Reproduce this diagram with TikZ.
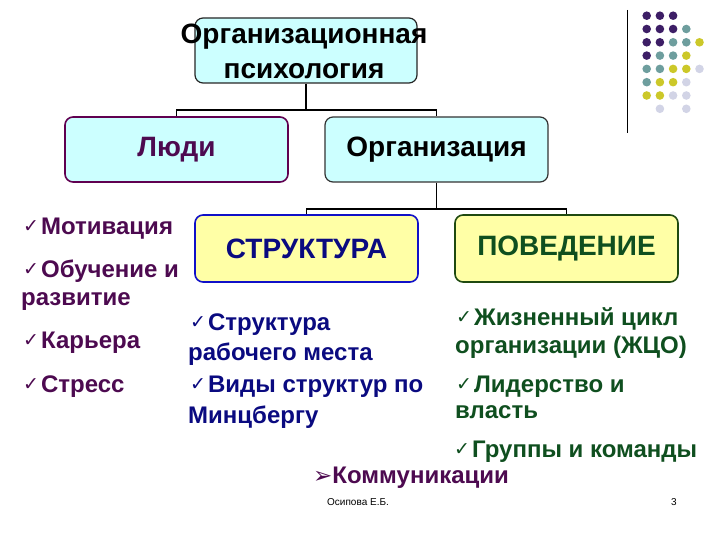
\documentclass[tikz,border=0pt]{standalone}
\usepackage{fontspec}
\setmainfont{Liberation Sans}
\newfontfamily\djv{DejaVu Sans}
\definecolor{cyanfill}{HTML}{CCFFFF}
\definecolor{yelfill}{HTML}{FFFFA6}
\definecolor{purptext}{HTML}{4D0A50}
\definecolor{purpline}{HTML}{600050}
\definecolor{bluetext}{HTML}{0A0A80}
\definecolor{blueline}{HTML}{1010C8}
\definecolor{greentext}{HTML}{0F4F1F}
\definecolor{greenline}{HTML}{1F4A10}
\definecolor{dotA}{HTML}{3D1E66}
\definecolor{dotB}{HTML}{6E9E9E}
\definecolor{dotC}{HTML}{CCC829}
\definecolor{dotD}{HTML}{D2D4E6}
\newcommand{\ck}{\raisebox{2pt}{\djv\fontsize{19}{19}\selectfont ✓}\hspace{2pt}}
\begin{document}
\begin{tikzpicture}[x=1pt,y=-1pt,
  box/.style={draw, rounded corners=8pt, line width=1.6pt, minimum width=223pt, minimum height=65pt, inner sep=0pt},
  lbl/.style={font=\bfseries\fontsize{28}{35}\selectfont, align=center, inner sep=0pt},
  item/.style={anchor=base west, inner sep=0pt, font=\bfseries\fontsize{24}{28}\selectfont},
  conn/.style={draw=black, line width=1.3pt},
  dot/.style={circle, fill=#1, minimum size=8.6pt, inner sep=0pt}]
\useasboundingbox (0,0) rectangle (720,540);
% decoration
\draw[line width=1pt] (627,10) -- (627,133);
\foreach \r/\row in {0/{A,A,A,0,0},1/{A,A,A,B,0},2/{A,A,B,B,C},3/{A,B,B,C,0},4/{B,B,C,C,D},5/{B,C,C,D,0},6/{C,C,D,D,0},7/{0,D,0,D,0}}{
  \foreach \k [count=\j from 0] in \row {
    \if\k0\else
      \node[dot=dot\k] at ({646.7+13.2*\j},{15.7+13.3*\r}) {};
    \fi
  }
}
% boxes
\node[box, draw=black!85, line width=1.2pt, fill=cyanfill, minimum width=222pt] (top) at (306,50.5) {};
\node[lbl] (toptxt) at (304,51) {Организационная\\психология};
\node[box, draw=purpline, fill=cyanfill, lbl, text=purptext] (ludi) at (176.5,149.5) {Люди};
\node[box, draw=black!80, line width=1.2pt, fill=cyanfill, lbl] (org) at (436.5,149.5) {Организация};
\node[box, draw=blueline, fill=yelfill, lbl, minimum height=67pt, text=bluetext] (str) at (306.5,248.5) {СТРУКТУРА};
\node[box, draw=greenline, fill=yelfill, lbl, minimum height=67pt, text=greentext] (beh) at (566.5,248.5) {ПОВЕДЕНИЕ};
% connectors
\coordinate (j1) at (306,110);
\coordinate (j2) at (436.5,209);
\draw[conn] (top.south) -- (j1);
\draw[conn] (ludi.north) |- (j1) -| (org.north);
\draw[conn] (org.south) -- (j2);
\draw[conn] (str.north) |- (j2) -| (beh.north);
% left list
\begin{scope}[every node/.style={item, text=purptext}]
\node (l1) at (23,235) {\ck Мотивация};
\node (l2) at (23,277) {\ck Обучение и};
\node (l2b) at (21,305) {развитие};
\node (l3) at (23,348) {\ck Карьера};
\node (l4) at (23,392) {\ck Стресс};
\end{scope}
% middle list
\begin{scope}[every node/.style={item, text=bluetext}]
\node (m1) at (190,330) {\ck Структура};
\node (m1b) at (188,360) {рабочего места};
\node (m2) at (190,392) {\ck Виды структур по};
\node (m2b) at (188,423) {Минцбергу};
\end{scope}
% right list
\begin{scope}[every node/.style={item, text=greentext}]
\node (r1) at (456,325) {\ck Жизненный цикл};
\node (r1b) at (455,353) {организации (ЖЦО)};
\node (r2) at (456,392) {\ck Лидерство и};
\node (r2b) at (455,418) {власть};
\node (r3) at (454,457) {\ck Группы и команды};
\end{scope}
\node[item, text=purptext] (comm) at (313,483) {{\djv\fontsize{23}{23}\selectfont ➢}Коммуникации};
% footer
\node[anchor=base west, inner sep=0pt, font=\fontsize{10}{11}\selectfont] (auth) at (327,505) {Осипова Е.Б.};
\node[anchor=base west, inner sep=0pt, font=\fontsize{10}{11}\selectfont] (pg) at (671,505) {3};
\end{tikzpicture}
\end{document}
